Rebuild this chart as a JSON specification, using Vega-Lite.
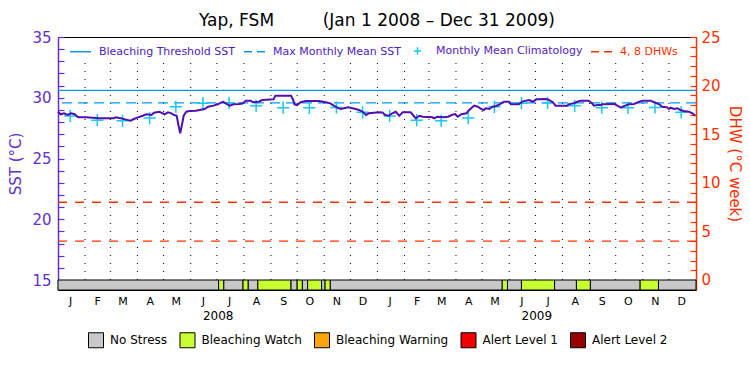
{
  "$schema": "https://vega.github.io/schema/vega-lite/v6.json",
  "background": "white",
  "width": 638,
  "height": 253,
  "padding": {"left": 8, "right": 4, "top": 12, "bottom": 4},
  "title": {"text": "Yap, FSM\u00a0\u00a0\u00a0\u00a0\u00a0\u00a0\u00a0\u00a0\u00a0(Jan 1 2008 \u2013 Dec 31 2009)", "font": "DejaVu Sans", "fontSize": 17, "fontWeight": "normal", "color": "black", "anchor": "middle", "offset": 0},
  "datasets": {
    "months": [
      {"date": "2008-02-01"}, {"date": "2008-03-01"}, {"date": "2008-04-01"}, {"date": "2008-05-01"}, {"date": "2008-06-01"}, {"date": "2008-07-01"},
      {"date": "2008-08-01"}, {"date": "2008-09-01"}, {"date": "2008-10-01"}, {"date": "2008-11-01"}, {"date": "2008-12-01"}, {"date": "2009-01-01"},
      {"date": "2009-02-01"}, {"date": "2009-03-01"}, {"date": "2009-04-01"}, {"date": "2009-05-01"}, {"date": "2009-06-01"}, {"date": "2009-07-01"},
      {"date": "2009-08-01"}, {"date": "2009-09-01"}, {"date": "2009-10-01"}, {"date": "2009-11-01"}, {"date": "2009-12-01"}
    ],
    "threshold": [{"series": "Bleaching Threshold SST", "sst": 30.6}],
    "mmm": [{"series": "Max Monthly Mean SST", "sst": 29.58}],
    "dhw": [{"series": "4, 8 DHWs", "dhw": 4}, {"series": "4, 8 DHWs", "dhw": 8}],
    "clim": [
      {"series": "Monthly Mean Climatology", "date": "2008-01-15", "sst": 28.5},
      {"series": "Monthly Mean Climatology", "date": "2008-02-15", "sst": 28.15},
      {"series": "Monthly Mean Climatology", "date": "2008-03-15", "sst": 28.1},
      {"series": "Monthly Mean Climatology", "date": "2008-04-15", "sst": 28.33},
      {"series": "Monthly Mean Climatology", "date": "2008-05-15", "sst": 29.25},
      {"series": "Monthly Mean Climatology", "date": "2008-06-15", "sst": 29.55},
      {"series": "Monthly Mean Climatology", "date": "2008-07-15", "sst": 29.58},
      {"series": "Monthly Mean Climatology", "date": "2008-08-15", "sst": 29.34},
      {"series": "Monthly Mean Climatology", "date": "2008-09-15", "sst": 29.18},
      {"series": "Monthly Mean Climatology", "date": "2008-10-15", "sst": 29.17},
      {"series": "Monthly Mean Climatology", "date": "2008-11-15", "sst": 29.2},
      {"series": "Monthly Mean Climatology", "date": "2008-12-15", "sst": 28.8},
      {"series": "Monthly Mean Climatology", "date": "2009-01-15", "sst": 28.5},
      {"series": "Monthly Mean Climatology", "date": "2009-02-15", "sst": 28.15},
      {"series": "Monthly Mean Climatology", "date": "2009-03-15", "sst": 28.1},
      {"series": "Monthly Mean Climatology", "date": "2009-04-15", "sst": 28.33},
      {"series": "Monthly Mean Climatology", "date": "2009-05-15", "sst": 29.25},
      {"series": "Monthly Mean Climatology", "date": "2009-06-15", "sst": 29.55},
      {"series": "Monthly Mean Climatology", "date": "2009-07-15", "sst": 29.58},
      {"series": "Monthly Mean Climatology", "date": "2009-08-15", "sst": 29.34},
      {"series": "Monthly Mean Climatology", "date": "2009-09-15", "sst": 29.18},
      {"series": "Monthly Mean Climatology", "date": "2009-10-15", "sst": 29.17},
      {"series": "Monthly Mean Climatology", "date": "2009-11-15", "sst": 29.2},
      {"series": "Monthly Mean Climatology", "date": "2009-12-15", "sst": 28.8}
    ],
    "sst": [
      {"date": "2008-01-01", "sst": 28.85}, {"date": "2008-01-04", "sst": 28.64}, {"date": "2008-01-08", "sst": 28.72}, {"date": "2008-01-12", "sst": 28.58},
      {"date": "2008-01-16", "sst": 28.72}, {"date": "2008-01-20", "sst": 28.64}, {"date": "2008-01-24", "sst": 28.39}, {"date": "2008-02-02", "sst": 28.39},
      {"date": "2008-02-10", "sst": 28.36}, {"date": "2008-02-17", "sst": 28.31}, {"date": "2008-03-05", "sst": 28.31}, {"date": "2008-03-07", "sst": 28.39},
      {"date": "2008-03-13", "sst": 28.31}, {"date": "2008-03-19", "sst": 28.2}, {"date": "2008-03-24", "sst": 28.11}, {"date": "2008-03-28", "sst": 28.25},
      {"date": "2008-04-01", "sst": 28.36}, {"date": "2008-04-07", "sst": 28.52}, {"date": "2008-04-11", "sst": 28.64}, {"date": "2008-04-17", "sst": 28.58},
      {"date": "2008-04-20", "sst": 28.77}, {"date": "2008-04-26", "sst": 28.85}, {"date": "2008-05-02", "sst": 28.64}, {"date": "2008-05-06", "sst": 28.8},
      {"date": "2008-05-10", "sst": 28.72}, {"date": "2008-05-13", "sst": 28.58}, {"date": "2008-05-16", "sst": 28.52}, {"date": "2008-05-18", "sst": 27.76},
      {"date": "2008-05-20", "sst": 27.07}, {"date": "2008-05-22", "sst": 27.76}, {"date": "2008-05-24", "sst": 28.52}, {"date": "2008-05-27", "sst": 28.85},
      {"date": "2008-05-31", "sst": 28.91}, {"date": "2008-06-07", "sst": 28.93}, {"date": "2008-06-11", "sst": 28.99}, {"date": "2008-06-17", "sst": 29.07},
      {"date": "2008-06-21", "sst": 29.26}, {"date": "2008-06-27", "sst": 29.35}, {"date": "2008-07-02", "sst": 29.46}, {"date": "2008-07-06", "sst": 29.6},
      {"date": "2008-07-08", "sst": 29.67}, {"date": "2008-07-12", "sst": 29.49}, {"date": "2008-07-16", "sst": 29.35}, {"date": "2008-07-20", "sst": 29.46},
      {"date": "2008-07-27", "sst": 29.49}, {"date": "2008-07-31", "sst": 29.54}, {"date": "2008-08-03", "sst": 29.76}, {"date": "2008-08-09", "sst": 29.76},
      {"date": "2008-08-11", "sst": 29.63}, {"date": "2008-08-18", "sst": 29.67}, {"date": "2008-08-22", "sst": 29.81}, {"date": "2008-09-04", "sst": 29.87},
      {"date": "2008-09-06", "sst": 30.17}, {"date": "2008-09-24", "sst": 30.17}, {"date": "2008-09-26", "sst": 29.9}, {"date": "2008-09-28", "sst": 29.46},
      {"date": "2008-10-01", "sst": 29.4}, {"date": "2008-10-05", "sst": 29.63}, {"date": "2008-10-11", "sst": 29.73}, {"date": "2008-10-26", "sst": 29.73},
      {"date": "2008-11-03", "sst": 29.63}, {"date": "2008-11-08", "sst": 29.54}, {"date": "2008-11-12", "sst": 29.35}, {"date": "2008-11-16", "sst": 29.18},
      {"date": "2008-11-20", "sst": 29.07}, {"date": "2008-11-26", "sst": 29.18}, {"date": "2008-11-29", "sst": 29.21}, {"date": "2008-12-07", "sst": 29.07},
      {"date": "2008-12-11", "sst": 28.99}, {"date": "2008-12-15", "sst": 28.85}, {"date": "2008-12-19", "sst": 28.58}, {"date": "2008-12-22", "sst": 28.72},
      {"date": "2008-12-28", "sst": 28.77}, {"date": "2009-01-05", "sst": 28.8}, {"date": "2009-01-07", "sst": 28.77}, {"date": "2009-01-10", "sst": 28.58},
      {"date": "2009-01-14", "sst": 28.52}, {"date": "2009-01-18", "sst": 28.72}, {"date": "2009-01-22", "sst": 28.85}, {"date": "2009-01-26", "sst": 28.52},
      {"date": "2009-01-30", "sst": 28.8}, {"date": "2009-02-08", "sst": 28.8}, {"date": "2009-02-10", "sst": 28.64}, {"date": "2009-02-14", "sst": 28.31},
      {"date": "2009-02-18", "sst": 28.52}, {"date": "2009-02-22", "sst": 28.44}, {"date": "2009-03-05", "sst": 28.39}, {"date": "2009-03-07", "sst": 28.31},
      {"date": "2009-03-11", "sst": 28.44}, {"date": "2009-03-17", "sst": 28.39}, {"date": "2009-03-23", "sst": 28.44}, {"date": "2009-03-27", "sst": 28.58},
      {"date": "2009-03-31", "sst": 28.66}, {"date": "2009-04-03", "sst": 28.44}, {"date": "2009-04-07", "sst": 28.64}, {"date": "2009-04-13", "sst": 28.72},
      {"date": "2009-04-15", "sst": 28.91}, {"date": "2009-04-19", "sst": 29.18}, {"date": "2009-04-22", "sst": 29.35}, {"date": "2009-04-26", "sst": 29.26},
      {"date": "2009-04-30", "sst": 29.07}, {"date": "2009-05-03", "sst": 28.99}, {"date": "2009-05-05", "sst": 29.13}, {"date": "2009-05-09", "sst": 29.07},
      {"date": "2009-05-13", "sst": 29.26}, {"date": "2009-05-17", "sst": 29.32}, {"date": "2009-05-21", "sst": 29.46}, {"date": "2009-05-26", "sst": 29.67},
      {"date": "2009-06-01", "sst": 29.67}, {"date": "2009-06-03", "sst": 29.46}, {"date": "2009-06-12", "sst": 29.46}, {"date": "2009-06-16", "sst": 29.67},
      {"date": "2009-06-20", "sst": 29.76}, {"date": "2009-06-24", "sst": 29.81}, {"date": "2009-06-28", "sst": 29.67}, {"date": "2009-07-02", "sst": 29.87},
      {"date": "2009-07-13", "sst": 29.9}, {"date": "2009-07-17", "sst": 29.81}, {"date": "2009-07-21", "sst": 29.63}, {"date": "2009-07-24", "sst": 29.35},
      {"date": "2009-08-07", "sst": 29.35}, {"date": "2009-08-08", "sst": 29.46}, {"date": "2009-08-14", "sst": 29.54}, {"date": "2009-08-18", "sst": 29.67},
      {"date": "2009-08-22", "sst": 29.76}, {"date": "2009-08-31", "sst": 29.76}, {"date": "2009-09-04", "sst": 29.54}, {"date": "2009-09-06", "sst": 29.35},
      {"date": "2009-09-10", "sst": 29.4}, {"date": "2009-09-14", "sst": 29.4}, {"date": "2009-09-16", "sst": 29.46}, {"date": "2009-09-29", "sst": 29.49},
      {"date": "2009-10-03", "sst": 29.35}, {"date": "2009-10-07", "sst": 29.18}, {"date": "2009-10-09", "sst": 29.26}, {"date": "2009-10-12", "sst": 29.35},
      {"date": "2009-10-16", "sst": 29.46}, {"date": "2009-10-22", "sst": 29.49}, {"date": "2009-10-28", "sst": 29.67}, {"date": "2009-11-01", "sst": 29.76},
      {"date": "2009-11-10", "sst": 29.76}, {"date": "2009-11-14", "sst": 29.63}, {"date": "2009-11-20", "sst": 29.46}, {"date": "2009-11-23", "sst": 29.26},
      {"date": "2009-11-29", "sst": 29.21}, {"date": "2009-12-01", "sst": 29.07}, {"date": "2009-12-03", "sst": 29.18}, {"date": "2009-12-07", "sst": 29.07},
      {"date": "2009-12-11", "sst": 29.13}, {"date": "2009-12-14", "sst": 28.99}, {"date": "2009-12-18", "sst": 28.91}, {"date": "2009-12-24", "sst": 28.85},
      {"date": "2009-12-28", "sst": 28.72}, {"date": "2009-12-31", "sst": 28.52}
    ],
    "stress": [
      {"start": "2008-01-01", "end": "2008-07-03", "level": "No Stress"},
      {"start": "2008-07-03", "end": "2008-07-09", "level": "Bleaching Watch"},
      {"start": "2008-07-09", "end": "2008-07-31", "level": "No Stress"},
      {"start": "2008-07-31", "end": "2008-08-06", "level": "Bleaching Watch"},
      {"start": "2008-08-06", "end": "2008-08-17", "level": "No Stress"},
      {"start": "2008-08-17", "end": "2008-09-24", "level": "Bleaching Watch"},
      {"start": "2008-09-24", "end": "2008-10-01", "level": "No Stress"},
      {"start": "2008-10-01", "end": "2008-10-07", "level": "Bleaching Watch"},
      {"start": "2008-10-07", "end": "2008-10-13", "level": "No Stress"},
      {"start": "2008-10-13", "end": "2008-10-29", "level": "Bleaching Watch"},
      {"start": "2008-10-29", "end": "2008-11-02", "level": "No Stress"},
      {"start": "2008-11-02", "end": "2008-11-08", "level": "Bleaching Watch"},
      {"start": "2008-11-08", "end": "2009-05-24", "level": "No Stress"},
      {"start": "2009-05-24", "end": "2009-05-30", "level": "Bleaching Watch"},
      {"start": "2009-05-30", "end": "2009-06-15", "level": "No Stress"},
      {"start": "2009-06-15", "end": "2009-07-23", "level": "Bleaching Watch"},
      {"start": "2009-07-23", "end": "2009-08-17", "level": "No Stress"},
      {"start": "2009-08-17", "end": "2009-09-02", "level": "Bleaching Watch"},
      {"start": "2009-09-02", "end": "2009-10-29", "level": "No Stress"},
      {"start": "2009-10-29", "end": "2009-11-19", "level": "Bleaching Watch"},
      {"start": "2009-11-19", "end": "2010-01-01", "level": "No Stress"}
    ]
  },
  "layer": [
    {
      "data": {"name": "stress"},
      "mark": {"type": "rect", "stroke": "black", "strokeWidth": 1},
      "encoding": {
        "x": {"field": "start", "type": "temporal", "scale": {"domain": [{"year": 2008, "month": 1, "date": 1}, {"year": 2010, "month": 1, "date": 1}]},
          "axis": {"orient": "bottom", "title": null, "format": "%b", "labelExpr": "substring(datum.label, 0, 1)", "ticks": false, "domain": false, "labelPadding": 5,
            "labelFontSize": 11, "labelFont": "DejaVu Sans", "labelColor": "black", "labelOverlap": false, "labelFlush": false,
            "values": [
              {"year": 2008, "month": 1, "date": 15}, {"year": 2008, "month": 2, "date": 15}, {"year": 2008, "month": 3, "date": 15}, {"year": 2008, "month": 4, "date": 15},
              {"year": 2008, "month": 5, "date": 15}, {"year": 2008, "month": 6, "date": 15}, {"year": 2008, "month": 7, "date": 15}, {"year": 2008, "month": 8, "date": 15},
              {"year": 2008, "month": 9, "date": 15}, {"year": 2008, "month": 10, "date": 15}, {"year": 2008, "month": 11, "date": 15}, {"year": 2008, "month": 12, "date": 15},
              {"year": 2009, "month": 1, "date": 15}, {"year": 2009, "month": 2, "date": 15}, {"year": 2009, "month": 3, "date": 15}, {"year": 2009, "month": 4, "date": 15},
              {"year": 2009, "month": 5, "date": 15}, {"year": 2009, "month": 6, "date": 15}, {"year": 2009, "month": 7, "date": 15}, {"year": 2009, "month": 8, "date": 15},
              {"year": 2009, "month": 9, "date": 15}, {"year": 2009, "month": 10, "date": 15}, {"year": 2009, "month": 11, "date": 15}, {"year": 2009, "month": 12, "date": 15}
            ]}},
        "x2": {"field": "end"},
        "y": {"datum": 14.177, "type": "quantitative", "scale": {"domain": [14.177, 35], "nice": false, "zero": false},
          "axis": {"title": "SST (\u00b0C)", "values": [15,16,17,18,19,20,21,22,23,24,25,26,27,28,29,30,31,32,33,34,35],
            "labelExpr": "datum.value % 5 === 0 ? datum.label : ''", "labelOverlap": false,
            "tickSize": -6, "labelPadding": 13, "labelFontSize": 15, "labelFont": "DejaVu Sans", "labelColor": "#6030cc",
            "tickColor": "#6030cc", "domainColor": "#6030cc", "tickWidth": 1.2, "domainWidth": 1.5,
            "titleColor": "#6030cc", "titleFontSize": 15, "titleFont": "DejaVu Sans", "titleFontWeight": "normal", "titlePadding": 8}},
        "y2": {"datum": 15},
        "fill": {"field": "level", "type": "nominal",
          "scale": {"domain": ["No Stress", "Bleaching Watch", "Bleaching Warning", "Alert Level 1", "Alert Level 2"], "range": ["#c8c8c8", "#c8ff32", "#faa50a", "#f00000", "#960000"]},
          "legend": {"orient": "none", "legendX": 30, "legendY": 295, "direction": "horizontal", "title": null, "padding": 0,
            "columnPadding": 9.5, "labelOffset": 6, "symbolType": "square", "symbolSize": 225, "symbolStrokeColor": "black", "symbolStrokeWidth": 1,
            "symbolOpacity": 1, "labelFontSize": 12, "labelFont": "DejaVu Sans", "labelColor": "black"}}
      }
    },
    {
      "data": {"name": "months"},
      "mark": {"type": "rule", "color": "black", "strokeDash": [1, 7], "strokeWidth": 1},
      "encoding": {
        "x": {"field": "date", "type": "temporal",
          "axis": {"orient": "bottom", "title": null, "format": "%Y", "ticks": false, "domain": false, "labelPadding": 5, "offset": 15,
            "labelFontSize": 12, "labelFont": "DejaVu Sans", "labelColor": "black", "labelOverlap": false, "labelFlush": false,
            "values": [{"year": 2008, "month": 7, "date": 2}, {"year": 2009, "month": 7, "date": 2}]}},
        "y": {"datum": 15, "type": "quantitative", "scale": {"domain": [14.177, 35], "nice": false, "zero": false}, "axis": null},
        "y2": {"datum": 33}
      }
    },
    {
      "data": {"name": "threshold"},
      "mark": {"type": "rule", "strokeWidth": 1.3},
      "encoding": {
        "y": {"field": "sst", "type": "quantitative", "scale": {"domain": [14.177, 35], "nice": false, "zero": false}, "axis": null},
        "color": {"field": "series", "type": "nominal",
          "scale": {"domain": ["Bleaching Threshold SST", "Max Monthly Mean SST", "Monthly Mean Climatology", "4, 8 DHWs"], "range": ["#0a96f5", "#0a96f5", "#14c8f5", "#ff3000"]},
          "legend": {"orient": "none", "legendX": 11, "legendY": 2, "direction": "horizontal", "title": null, "padding": 0,
            "columnPadding": 5, "labelOffset": 7, "symbolSize": 441, "symbolStrokeWidth": 1.5, "labelFontSize": 11, "labelFont": "DejaVu Sans",
            "symbolType": "stroke",
            "encode": {
              "labels": {"update": {"fill": {"signal": "datum.value === '4, 8 DHWs' ? '#ff3000' : '#5020c0'"}}},
              "symbols": {"update": {
                "shape": {"signal": "datum.value === 'Monthly Mean Climatology' ? 'M-0.35,0H0.35M0,-0.35V0.35' : 'stroke'"},
                "strokeDash": {"signal": "(datum.value === 'Max Monthly Mean SST' || datum.value === '4, 8 DHWs') ? [8, 5] : [1, 0]"},
                "fill": {"value": "transparent"}
              }}
            }}
        }
      }
    },
    {
      "data": {"name": "mmm"},
      "mark": {"type": "rule", "strokeWidth": 1.3, "strokeDash": [10, 6]},
      "encoding": {
        "y": {"field": "sst", "type": "quantitative", "scale": {"domain": [14.177, 35], "nice": false, "zero": false}, "axis": null},
        "color": {"field": "series", "type": "nominal"}
      }
    },
    {
      "data": {"name": "clim"},
      "mark": {"type": "point", "shape": "M-1,0H1M0,-1V1", "filled": false, "size": 150, "strokeWidth": 1.5, "opacity": 1},
      "encoding": {
        "x": {"field": "date", "type": "temporal", "axis": null},
        "y": {"field": "sst", "type": "quantitative", "scale": {"domain": [14.177, 35], "nice": false, "zero": false}, "axis": null},
        "color": {"field": "series", "type": "nominal"}
      }
    },
    {
      "data": {"name": "sst"},
      "mark": {"type": "line", "color": "#5010b0", "strokeWidth": 2},
      "encoding": {
        "x": {"field": "date", "type": "temporal", "axis": null},
        "y": {"field": "sst", "type": "quantitative", "scale": {"domain": [14.177, 35], "nice": false, "zero": false}, "axis": null}
      }
    },
    {
      "data": {"name": "dhw"},
      "mark": {"type": "rule", "strokeDash": [9, 8], "strokeWidth": 1.3},
      "encoding": {
        "y": {"field": "dhw", "type": "quantitative", "scale": {"domain": [-1.029, 25], "nice": false, "zero": false},
          "axis": {"orient": "right", "title": "DHW (\u00b0C week)", "values": [0,1,2,3,4,5,6,7,8,9,10,11,12,13,14,15,16,17,18,19,20,21,22,23,24,25],
            "labelExpr": "datum.value % 5 === 0 ? datum.label : ''", "labelOverlap": false,
            "tickSize": -6, "labelPadding": 11, "labelFontSize": 15, "labelFont": "DejaVu Sans", "labelColor": "#ff3000",
            "tickColor": "#ff3000", "domainColor": "#ff3000", "tickWidth": 1.2, "domainWidth": 1.5,
            "titleColor": "#ff3000", "titleFontSize": 15, "titleFont": "DejaVu Sans", "titleFontWeight": "normal", "titlePadding": 6}},
        "color": {"field": "series", "type": "nominal"}
      }
    }
  ],
  "resolve": {"scale": {"y": "independent"}, "axis": {"x": "independent"}},
  "config": {
    "view": {"stroke": "black", "strokeWidth": 1},
    "font": "DejaVu Sans",
    "axis": {"grid": false, "titleFontWeight": "normal"},
    "legend": {"padding": 0}
  }
}
